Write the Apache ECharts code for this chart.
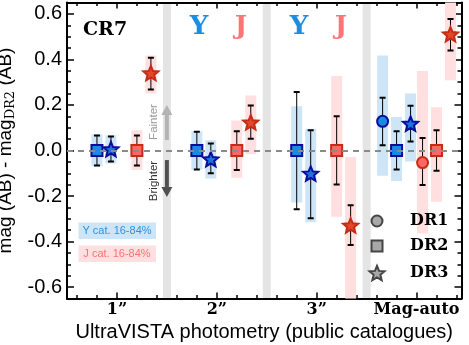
<!DOCTYPE html>
<html>
<head>
<meta charset="utf-8">
<script src="https://cdn.jsdelivr.net/npm/echarts@6/dist/echarts.min.js"></script>
<style>
  html, body { margin: 0; padding: 0; background: #fff; }
  #chart { width: 469px; height: 345px; }
</style>
</head>
<body>
<div id="chart"></div>
<script>
// 孔径类别（x 轴刻度标签）
const apertures = ['1”', '2”', '3”', 'Mag-auto']
const yTicks = [-0.6, -0.4, -0.2, 0.0, 0.2, 0.4, 0.6]
const separators = [1.5, 2.5, 3.5]

// Y 波段
const yDr1Value = [null, null, null, 0.128]
const yDr1Err = [null, null, null, [0.023, 0.232]]
const yDr1Band = [null, null, null, [-0.111, 0.417]]
const yDr2Value = [0, 0, 0, 0]
const yDr2Err = [[-0.066, 0.066], [-0.083, 0.082], [-0.258, 0.257], [-0.083, 0.085]]
const yDr2Band = [[-0.069, 0.071], [-0.085, 0.085], [-0.228, 0.194], [-0.134, 0.147]]
const yDr3Value = [0.006, -0.038, -0.101, 0.118]
const yDr3Err = [[-0.048, 0.062], [-0.100, 0.031], [-0.298, 0.089], [0.039, 0.197]]
const yDr3Band = [[-0.057, 0.067], [-0.123, 0.045], [-0.315, 0.096], [-0.048, 0.250]]

// J 波段
const jDr1Value = [null, null, null, -0.053]
const jDr1Err = [null, null, null, [-0.152, 0.055]]
const jDr1Band = [null, null, null, [-0.364, 0.349]]
const jDr2Value = [0, 0, 0, 0]
const jDr2Err = [[-0.066, 0.066], [-0.086, 0.085], [-0.149, 0.150], [-0.089, 0.089]]
const jDr2Band = [[-0.086, 0.089], [-0.120, 0.132], [-0.291, 0.327], [-0.225, 0.190]]
const jDr3Value = [0.340, 0.124, -0.329, 0.511]
const jDr3Err = [[0.268, 0.407], [0.052, 0.198], [-0.415, -0.241], [0.439, 0.578]]
const jDr3Band = [[0.250, 0.417], [-0.016, 0.242], [-0.800, -0.028], [0.308, 0.800]]

// 亮/暗 箭头 [x, 起点, 终点]
const arrows = [[1.5, 0.046, 0.200], [1.5, -0.042, -0.204]]
const arrowColors = ['#b3b3b3', '#505050']

// 五角星顶点（单位坐标）
const starPts = [[0, -100], [26, -36], [95, -31], [43, 14], [59, 81], [0, 45], [-59, 81], [-43, 14], [-95, -31], [-26, -36]]
const STAR = 'path://M' + starPts.map(p => p.join(' ')).join(' L') + ' Z'

const blue = {band: '#cde5f7', fill: '#178be0', edge: '#0b0b9c', starFill: '#1c74dc'}
const red = {band: '#ffdfdf', fill: '#ff6666', edge: '#c42d14', starFill: '#e4472c'}

const sets = [
  {value: yDr1Value, err: yDr1Err, band: yDr1Band, off: -0.34, symbol: 'circle', c: blue},
  {value: yDr2Value, err: yDr2Err, band: yDr2Band, off: -0.20, symbol: 'rect', c: blue},
  {value: yDr3Value, err: yDr3Err, band: yDr3Band, off: -0.06, symbol: STAR, c: blue},
  {value: jDr1Value, err: jDr1Err, band: jDr1Band, off: 0.06, symbol: 'circle', c: red},
  {value: jDr2Value, err: jDr2Err, band: jDr2Band, off: 0.20, symbol: 'rect', c: red},
  {value: jDr3Value, err: jDr3Err, band: jDr3Band, off: 0.34, symbol: STAR, c: red},
]

const xMajor = [1, 2, 3, 4]
const xMinor = []
for (let v = 0.6; v < 4.45; v += 0.2) {
  const r = Math.round(v * 10) / 10
  if (Math.abs(r - Math.round(r)) > 0.01) xMinor.push(r)
}

const X_MIN = 0.5, X_MAX = 4.45, Y_MIN = -0.65, Y_MAX = 0.65

const bandRender = (color) => (params, api) => {
  const x = api.value(0)
  const p1 = api.coord([x, api.value(2)])
  const p2 = api.coord([x, api.value(1)])
  const w = api.size([0.11, 0])[0]
  return {
    type: 'rect',
    shape: {x: p1[0] - w / 2, y: p1[1], width: w, height: p2[1] - p1[1]},
    style: {fill: color}
  }
}

const errRender = (params, api) => {
  const x = api.value(0)
  const t = api.coord([x, api.value(2)])
  const b = api.coord([x, api.value(1)])
  const cw = 3
  return {
    type: 'group',
    children: [
      {type: 'line', shape: {x1: t[0], y1: t[1], x2: b[0], y2: b[1]}, style: {stroke: '#000', lineWidth: 1}},
      {type: 'line', shape: {x1: t[0] - cw, y1: t[1], x2: t[0] + cw, y2: t[1]}, style: {stroke: '#000', lineWidth: 2}},
      {type: 'line', shape: {x1: b[0] - cw, y1: b[1], x2: b[0] + cw, y2: b[1]}, style: {stroke: '#000', lineWidth: 2}},
    ]
  }
}

const series = []

// 分隔灰条
series.push({
  type: 'custom',
  data: separators.map(s => [s]),
  z: 0,
  silent: true,
  renderItem: (params, api) => {
    const p = api.coord([api.value(0), 0])
    const cs = params.coordSys
    return {type: 'rect', shape: {x: p[0] - 4, y: cs.y, width: 8, height: cs.height}, style: {fill: '#e4e4e4'}}
  }
})

// 16-84% 区间
sets.forEach(s => {
  const data = []
  s.band.forEach((b, i) => { if (b) data.push([i + 1 + s.off, b[0], b[1]]) })
  series.push({type: 'custom', data, z: 1, clip: true, silent: true, renderItem: bandRender(s.c.band)})
})

// 零线
series.push({
  type: 'line',
  data: [],
  z: 2,
  markLine: {
    silent: true,
    symbol: 'none',
    label: {show: false},
    lineStyle: {color: '#8a8a8a', type: [6, 5], width: 2},
    data: [{yAxis: 0}]
  }
})

// 箭头
series.push({
  type: 'custom',
  data: arrows,
  z: 2,
  silent: true,
  renderItem: (params, api) => {
    const x = api.value(0)
    const p0 = api.coord([x, api.value(1)])
    const p1 = api.coord([x, api.value(2)])
    const dir = p1[1] > p0[1] ? 1 : -1
    const hl = 10, hw = 5.5, sw = 2
    const base = p1[1] - dir * hl
    const color = arrowColors[params.dataIndex]
    return {
      type: 'group',
      children: [
        {type: 'rect', shape: {x: p0[0] - sw, y: Math.min(p0[1], base), width: sw * 2, height: Math.abs(base - p0[1])}, style: {fill: color}},
        {type: 'polygon', shape: {points: [[p1[0] - hw, base], [p1[0] + hw, base], [p1[0], p1[1]]]}, style: {fill: color}}
      ]
    }
  }
})

// 误差棒
sets.forEach(s => {
  const data = []
  s.err.forEach((e, i) => { if (e) data.push([i + 1 + s.off, e[0], e[1]]) })
  series.push({type: 'custom', data, z: 3, clip: true, silent: true, renderItem: errRender})
})

// 数据点
sets.forEach(s => {
  const data = []
  s.value.forEach((v, i) => { if (v !== null) data.push([i + 1 + s.off, v]) })
  const isStar = s.symbol === STAR
  series.push({
    type: 'scatter',
    data,
    z: 4,
    symbol: s.symbol,
    symbolSize: isStar ? 15 : 11,
    symbolKeepAspect: true,
    itemStyle: {color: isStar ? s.c.starFill : s.c.fill, borderColor: s.c.edge, borderWidth: 2, opacity: 1}
  })
})

const tickStyle = {color: '#000', width: 1.5}
const mkX = (pos, custom, len, main) => ({
  type: 'value', min: X_MIN, max: X_MAX, position: pos,
  axisLine: {show: main, onZero: false, lineStyle: {color: '#000', width: 2}},
  axisTick: {show: true, inside: true, length: len, customValues: custom, lineStyle: tickStyle},
  axisLabel: {show: false},
  splitLine: {show: false}
})
const mkY = (pos, len, main, custom) => ({
  type: 'value', min: Y_MIN, max: Y_MAX, position: pos,
  interval: custom ? undefined : 0.05,
  axisLine: {show: main, onZero: false, lineStyle: {color: '#000', width: 2}},
  axisTick: {show: true, inside: true, length: len, customValues: custom, lineStyle: tickStyle},
  axisLabel: {show: false},
  splitLine: {show: false}
})

const xMain = mkX('bottom', xMajor, 6, true)
xMain.axisLabel = {
  show: true, customValues: xMajor, margin: 3,
  formatter: v => apertures[Math.round(v) - 1],
  fontFamily: 'DejaVu Serif', fontWeight: 'bold', fontSize: 16, color: '#000'
}
xMain.name = 'UltraVISTA photometry (public catalogues)'
xMain.nameLocation = 'middle'
xMain.nameGap = 22
xMain.nameTextStyle = {fontFamily: 'Liberation Sans', fontSize: 20, color: '#000'}

const yMain = mkY('left', 7, true, yTicks)
yMain.axisLabel = {
  show: true, customValues: yTicks, margin: 5,
  formatter: v => v.toFixed(1),
  fontFamily: 'Liberation Sans', fontSize: 20, color: '#000'
}
yMain.name = '{a|mag (AB) - mag}{s|DR2}{a| (AB)}'
yMain.nameLocation = 'middle'
yMain.nameGap = 40
yMain.nameTextStyle = {
  rich: {
    a: {fontFamily: 'Liberation Sans', fontSize: 19, lineHeight: 22, color: '#000'},
    s: {fontFamily: 'DejaVu Serif', fontSize: 13, lineHeight: 13, verticalAlign: 'bottom', color: '#000'}
  }
}

const legendText = (x, y, text) => ({
  type: 'text', x, y, z: 20,
  style: {text, fontFamily: 'DejaVu Serif', fontWeight: 'bold', fontSize: 16, fill: '#000', verticalAlign: 'middle'}
})

// 图例中的星形（像素尺寸）
const legendStar = (cx, cy, size) => {
  const k = size / 190
  return {
    type: 'polygon', z: 20,
    shape: {points: starPts.map(p => [cx + p[0] * k, cy + (p[1] + 9.5) * k])},
    style: {fill: '#a8a8a8', stroke: '#454545', lineWidth: 2}
  }
}

const option = {
  animation: false,
  grid: {left: 67, right: 7.5, top: 2.5, bottom: 46.5, containLabel: false, outerBoundsMode: 'none'},
  xAxis: [xMain, mkX('bottom', xMinor, 3.5, false), mkX('top', xMajor, 6, true), mkX('top', xMinor, 3.5, false)],
  yAxis: [yMain, mkY('left', 4, false), mkY('right', 7, true, yTicks), mkY('right', 4, false)],
  series,
  graphic: [
    {type: 'text', x: 83, y: 30, z: 20, style: {text: 'CR7', fontFamily: 'DejaVu Serif', fontWeight: 'bold', fontSize: 19, fill: '#000', verticalAlign: 'middle'}},
    {type: 'text', x: 199, y: 27, z: 20, style: {text: 'Y', fontFamily: 'DejaVu Serif', fontWeight: 'bold', fontSize: 26, fill: '#1a8ee3', align: 'center', verticalAlign: 'middle'}},
    {type: 'text', x: 241, y: 27, z: 20, style: {text: 'J', fontFamily: 'DejaVu Serif', fontWeight: 'bold', fontSize: 26, fill: '#ff7474', align: 'center', verticalAlign: 'middle'}},
    {type: 'text', x: 299, y: 27, z: 20, style: {text: 'Y', fontFamily: 'DejaVu Serif', fontWeight: 'bold', fontSize: 26, fill: '#1a8ee3', align: 'center', verticalAlign: 'middle'}},
    {type: 'text', x: 341, y: 27, z: 20, style: {text: 'J', fontFamily: 'DejaVu Serif', fontWeight: 'bold', fontSize: 26, fill: '#ff7474', align: 'center', verticalAlign: 'middle'}},
    {type: 'text', x: 154, y: 122, z: 20, rotation: Math.PI / 2, style: {text: 'Fainter', fontFamily: 'Liberation Sans', fontSize: 11.5, fill: '#999', align: 'center', verticalAlign: 'middle'}},
    {type: 'text', x: 154, y: 181, z: 20, rotation: Math.PI / 2, style: {text: 'Brighter', fontFamily: 'Liberation Sans', fontSize: 11.5, fill: '#333', align: 'center', verticalAlign: 'middle'}},
    {type: 'rect', z: 20, shape: {x: 78.5, y: 222.5, width: 77.5, height: 16.5}, style: {fill: '#cde5f7'}},
    {type: 'text', x: 117, y: 231, z: 21, style: {text: 'Y cat. 16-84%', fontFamily: 'Liberation Sans', fontSize: 11, fill: '#2a94e2', align: 'center', verticalAlign: 'middle'}},
    {type: 'rect', z: 20, shape: {x: 78.5, y: 245.5, width: 77.5, height: 16.5}, style: {fill: '#ffdfdf'}},
    {type: 'text', x: 117, y: 254, z: 21, style: {text: 'J cat. 16-84%', fontFamily: 'Liberation Sans', fontSize: 11, fill: '#ff7272', align: 'center', verticalAlign: 'middle'}},
    {type: 'circle', z: 20, shape: {cx: 377, cy: 221, r: 5.5}, style: {fill: '#a8a8a8', stroke: '#454545', lineWidth: 2}},
    {type: 'rect', z: 20, shape: {x: 371.5, y: 240.5, width: 11, height: 11}, style: {fill: '#a8a8a8', stroke: '#454545', lineWidth: 2}},
    legendStar(377, 273, 15),
    legendText(410, 221, 'DR1'),
    legendText(410, 246, 'DR2'),
    legendText(410, 273, 'DR3'),
  ]
}

const chartInstance = echarts.init(document.getElementById('chart'))
chartInstance.setOption(option)
</script>
</body>
</html>
